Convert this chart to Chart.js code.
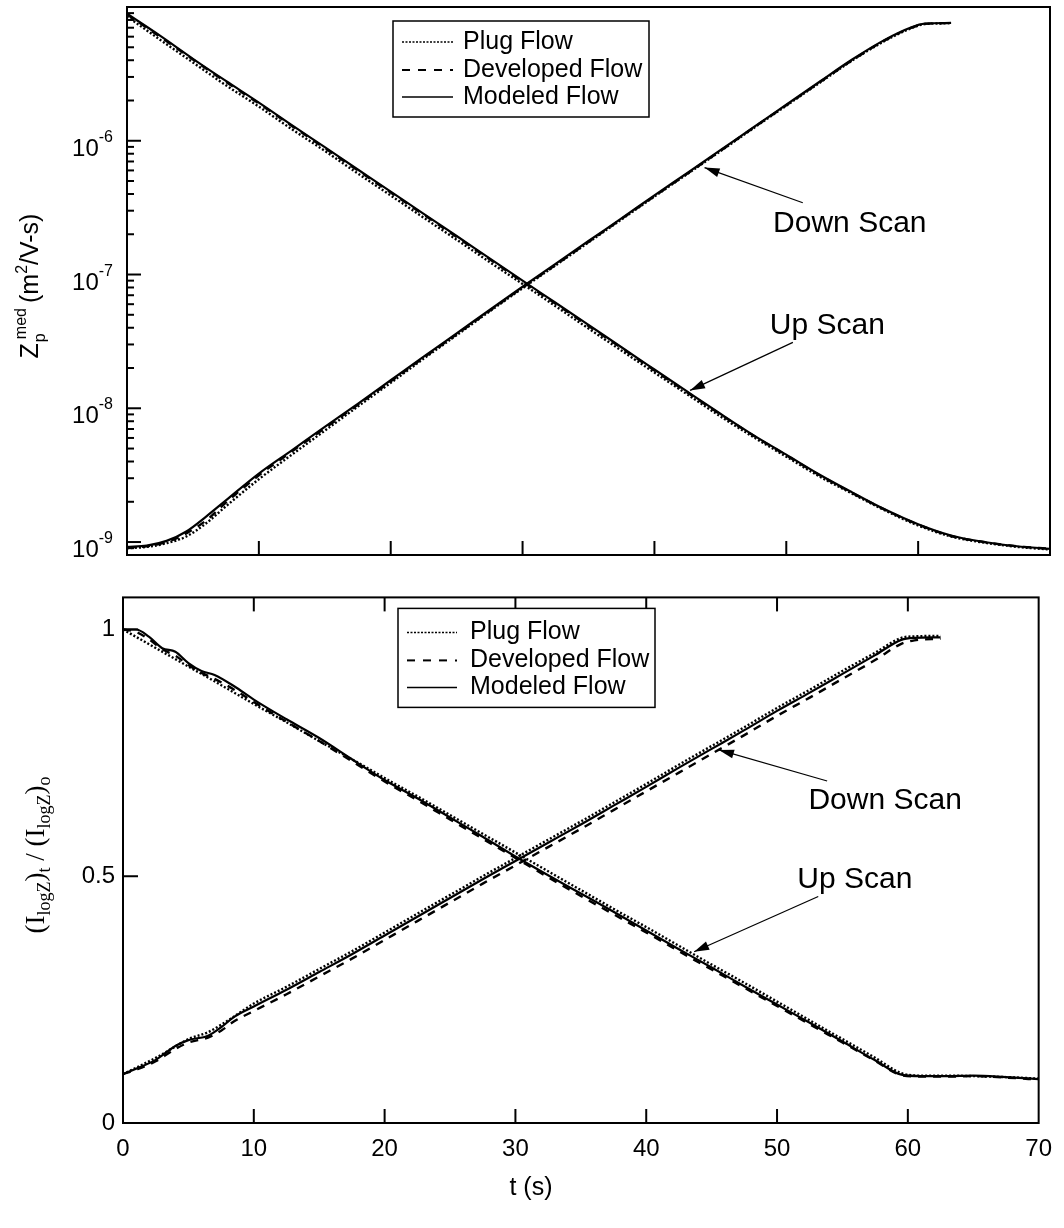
<!DOCTYPE html>
<html>
<head>
<meta charset="utf-8">
<title>Median mobility and normalized log-mobility integral vs. time</title>
<script src="https://cdn.jsdelivr.net/npm/chart.js@4.4.1/dist/chart.umd.min.js"></script>
<style>
  html, body { margin: 0; padding: 0; background: #fff; }
  #figure { position: relative; width: 1064px; height: 1228px; }
  #figure canvas { position: absolute; left: 0; }
</style>
</head>
<body>
<div id="figure">
  <canvas id="mobilityChart" width="1064" height="575" style="top:0"></canvas>
  <canvas id="integralChart" width="1064" height="653" style="top:575px"></canvas>
</div>
<script>
// ---------- data ----------
const flowLabels = ['Plug Flow', 'Developed Flow', 'Modeled Flow'];

// Upper panel: median mobility Z_p^med (m^2/V-s) vs t (s)
const tUpScanZ = [0, 2.5, 5, 7.5, 10, 12.5, 15, 17.5, 20, 22.5, 25, 27.5, 30, 32.5, 35, 37.5, 40, 42.5, 45, 47.5, 50, 52.5, 55, 57.5, 60, 62.5, 65, 67.5, 70];
const zUpPlug      = [8.5e-6, 5.7e-6, 3.85e-6, 2.6e-6, 1.8e-6, 1.22e-6, 8.4e-7, 5.7e-7, 3.9e-7, 2.66e-7, 1.82e-7, 1.24e-7, 8.5e-8, 5.8e-8, 3.95e-8, 2.7e-8, 1.85e-8, 1.27e-8, 8.7e-9, 6.1e-9, 4.35e-9, 3.1e-9, 2.3e-9, 1.72e-9, 1.33e-9, 1.1e-9, 9.9e-10, 9.2e-10, 8.8e-10];
const zUpDeveloped = [8.8e-6, 6.0e-6, 4.05e-6, 2.75e-6, 1.9e-6, 1.29e-6, 8.8e-7, 6.0e-7, 4.1e-7, 2.8e-7, 1.91e-7, 1.3e-7, 8.85e-8, 6.05e-8, 4.13e-8, 2.82e-8, 1.92e-8, 1.31e-8, 9.0e-9, 6.25e-9, 4.45e-9, 3.17e-9, 2.33e-9, 1.74e-9, 1.35e-9, 1.11e-9, 1.0e-9, 9.3e-10, 8.9e-10];
const zUpModeled   = [8.9e-6, 6.1e-6, 4.1e-6, 2.8e-6, 1.93e-6, 1.31e-6, 8.95e-7, 6.1e-7, 4.17e-7, 2.84e-7, 1.94e-7, 1.32e-7, 9.0e-8, 6.15e-8, 4.2e-8, 2.86e-8, 1.95e-8, 1.33e-8, 9.1e-9, 6.3e-9, 4.5e-9, 3.2e-9, 2.35e-9, 1.75e-9, 1.36e-9, 1.12e-9, 1.0e-9, 9.3e-10, 8.9e-10];

const tDownScanZ = [0, 1.5, 3, 4.5, 6, 7.5, 10, 12.5, 15, 17.5, 20, 22.5, 25, 27.5, 30, 32.5, 35, 37.5, 40, 42.5, 45, 47.5, 50, 52.5, 55, 57.5, 59.5, 60.5, 62.5];
const zDownPlug      = [9.0e-10, 9.2e-10, 9.8e-10, 1.1e-9, 1.38e-9, 1.85e-9, 2.95e-9, 4.5e-9, 6.8e-9, 1.03e-8, 1.55e-8, 2.35e-8, 3.52e-8, 5.3e-8, 7.9e-8, 1.17e-7, 1.74e-7, 2.58e-7, 3.83e-7, 5.65e-7, 8.35e-7, 1.24e-6, 1.83e-6, 2.7e-6, 3.98e-6, 5.6e-6, 6.95e-6, 7.45e-6, 7.55e-6];
const zDownDeveloped = [9.1e-10, 9.3e-10, 1.0e-9, 1.16e-9, 1.45e-9, 1.97e-9, 3.15e-9, 4.75e-9, 7.1e-9, 1.06e-8, 1.59e-8, 2.39e-8, 3.57e-8, 5.35e-8, 8.0e-8, 1.18e-7, 1.75e-7, 2.6e-7, 3.85e-7, 5.68e-7, 8.4e-7, 1.25e-6, 1.84e-6, 2.72e-6, 4.0e-6, 5.65e-6, 7.0e-6, 7.48e-6, 7.58e-6];
const zDownModeled   = [9.2e-10, 9.4e-10, 1.02e-9, 1.2e-9, 1.55e-9, 2.05e-9, 3.25e-9, 4.85e-9, 7.25e-9, 1.08e-8, 1.62e-8, 2.43e-8, 3.63e-8, 5.43e-8, 8.1e-8, 1.2e-7, 1.78e-7, 2.63e-7, 3.9e-7, 5.75e-7, 8.5e-7, 1.26e-6, 1.86e-6, 2.75e-6, 4.05e-6, 5.7e-6, 7.05e-6, 7.5e-6, 7.6e-6];

// Lower panel: (I_logZ)_t / (I_logZ)_o vs t (s)
const tUpScanI = [0, 1, 2, 3, 4, 5, 6, 7, 8.5, 10, 12.5, 15, 17.5, 20, 22.5, 25, 27.5, 30, 32.5, 35, 37.5, 40, 42.5, 45, 47.5, 50, 52.5, 55, 57.5, 59.5, 61, 63, 65, 67.5, 70];
const iUpPlug      = [1.0, 0.985, 0.97, 0.955, 0.94, 0.925, 0.91, 0.895, 0.872, 0.849, 0.812, 0.774, 0.737, 0.699, 0.662, 0.624, 0.586, 0.548, 0.51, 0.472, 0.434, 0.397, 0.359, 0.321, 0.284, 0.246, 0.208, 0.17, 0.132, 0.101, 0.096, 0.096, 0.095, 0.093, 0.09];
const iUpDeveloped = [1.0, 0.995, 0.98, 0.96, 0.947, 0.928, 0.912, 0.9, 0.878, 0.853, 0.813, 0.774, 0.733, 0.692, 0.654, 0.615, 0.576, 0.537, 0.498, 0.46, 0.423, 0.386, 0.348, 0.311, 0.274, 0.237, 0.2, 0.163, 0.126, 0.097, 0.094, 0.094, 0.095, 0.092, 0.088];
const iUpModeled   = [1.0, 1.0, 0.985, 0.962, 0.955, 0.932, 0.916, 0.908, 0.885, 0.858, 0.818, 0.78, 0.737, 0.695, 0.658, 0.619, 0.58, 0.54, 0.502, 0.465, 0.428, 0.39, 0.352, 0.315, 0.277, 0.24, 0.203, 0.165, 0.127, 0.098, 0.095, 0.095, 0.096, 0.093, 0.089];

const tDownScanI = [0, 1, 2.5, 4, 5, 6.5, 7.5, 8.5, 10, 12.5, 15, 17.5, 20, 22.5, 25, 27.5, 30, 32.5, 35, 37.5, 40, 42.5, 45, 47.5, 50, 52.5, 55, 57.5, 59.5, 60.5, 62.5];
const iDownPlug      = [0.099, 0.112, 0.132, 0.155, 0.17, 0.184, 0.199, 0.216, 0.242, 0.276, 0.312, 0.348, 0.386, 0.424, 0.462, 0.5, 0.537, 0.574, 0.611, 0.649, 0.687, 0.726, 0.764, 0.802, 0.841, 0.878, 0.916, 0.953, 0.983, 0.986, 0.987];
const iDownDeveloped = [0.099, 0.108, 0.125, 0.15, 0.163, 0.173, 0.187, 0.206, 0.227, 0.261, 0.297, 0.333, 0.371, 0.409, 0.447, 0.485, 0.522, 0.559, 0.596, 0.634, 0.672, 0.71, 0.748, 0.786, 0.825, 0.862, 0.9, 0.938, 0.971, 0.978, 0.981];
const iDownModeled   = [0.099, 0.11, 0.128, 0.156, 0.168, 0.177, 0.194, 0.215, 0.236, 0.27, 0.306, 0.342, 0.38, 0.418, 0.456, 0.494, 0.531, 0.568, 0.605, 0.643, 0.681, 0.72, 0.758, 0.796, 0.835, 0.872, 0.91, 0.948, 0.979, 0.983, 0.984];

// Tick values
const timeTicks = [0, 10, 20, 30, 40, 50, 60, 70];
const zDecadeExponents = [-9, -8, -7, -6];
const iTicks = [0, 0.5, 1];

// Scan annotations, in data coordinates: [t, value]
const zNotes = [
  { label: 'Down Scan', text: [49.0, 2.4e-7], tail: [51.25, 3.44e-7], tip: [43.8, 6.3e-7] },
  { label: 'Up Scan',   text: [48.75, 4.17e-8], tail: [50.5, 3.11e-8], tip: [42.7, 1.36e-8] }
];
const iNotes = [
  { label: 'Down Scan', text: [52.4, 0.653], tail: [53.83, 0.693], tip: [45.56, 0.756] },
  { label: 'Up Scan',   text: [51.55, 0.493], tail: [53.15, 0.459], tip: [43.66, 0.347] }
];

// ---------- styling ----------
const SANS = '"Liberation Sans", Arial, sans-serif';
const SERIF = '"Liberation Serif", "Times New Roman", serif';
const FLOW_STYLE = [
  { dash: [2, 2], width: 2.4 },   // plug: dotted
  { dash: [8, 7], width: 2.4 },   // developed: dashed
  { dash: [], width: 2.2 }        // modeled: solid
];
const LEGEND_STYLE = [
  { dash: [2, 1.5], width: 1.5 },
  { dash: [8, 8], width: 2 },
  { dash: [], width: 1.5 }
];

function pts(ts, vs) { return ts.map((t, i) => ({ x: t, y: vs[i] })); }

function flowDatasets(scan, ts, seriesList) {
  return seriesList.map((vs, k) => ({
    label: scan + ' - ' + flowLabels[k],
    data: pts(ts, vs),
    borderColor: '#000',
    backgroundColor: '#000',
    borderWidth: FLOW_STYLE[k].width,
    borderDash: FLOW_STYLE[k].dash,
    borderCapStyle: 'butt',
    pointRadius: 0,
    fill: false,
    cubicInterpolationMode: 'monotone'
  }));
}

function line(ctx, x1, y1, x2, y2) {
  ctx.beginPath(); ctx.moveTo(x1, y1); ctx.lineTo(x2, y2); ctx.stroke();
}

function arrow(ctx, x1, y1, x2, y2) {
  ctx.lineWidth = 1.2;
  line(ctx, x1, y1, x2, y2);
  const a = Math.atan2(y2 - y1, x2 - x1), L = 15, W = 4.5;
  const bx = x2 - L * Math.cos(a), by = y2 - L * Math.sin(a);
  ctx.beginPath();
  ctx.moveTo(x2, y2);
  ctx.lineTo(bx + W * Math.sin(a), by - W * Math.cos(a));
  ctx.lineTo(bx - W * Math.sin(a), by + W * Math.cos(a));
  ctx.closePath();
  ctx.fill();
}

// Frame, inward ticks, legend box, arrows and custom labels
const paperFrame = {
  id: 'paperFrame',
  afterDatasetsDraw(chart, args, o) {
    const { ctx, chartArea: a, scales: { x, y } } = chart;
    ctx.save();
    ctx.strokeStyle = '#000';
    ctx.fillStyle = '#000';
    ctx.setLineDash([]);

    // x ticks
    ctx.lineWidth = 2;
    timeTicks.forEach(t => {
      if (t <= x.min || t >= x.max) return;
      const px = x.getPixelForValue(t);
      line(ctx, px, a.bottom, px, a.bottom - 14);
      if (o.topTicks) line(ctx, px, a.top, px, a.top + 14);
    });

    // y ticks
    o.yTicks.forEach(([v, len]) => {
      const py = y.getPixelForValue(v);
      if (py < a.top - 0.5 || py > a.bottom + 0.5) return;
      line(ctx, a.left, py, a.left + len, py);
    });

    // frame
    ctx.lineWidth = 2;
    ctx.strokeRect(a.left, a.top, a.right - a.left, a.bottom - a.top);

    // log-axis labels 10^n
    if (o.powerLabels) {
      o.powerLabels.forEach(e => {
        const py = y.getPixelForValue(Math.pow(10, e));
        ctx.textBaseline = 'alphabetic';
        ctx.textAlign = 'left';
        ctx.font = '16px ' + SANS;
        const sup = String(e);
        const ws = ctx.measureText(sup).width;
        ctx.font = '24px ' + SANS;
        const wb = ctx.measureText('10').width;
        const right = a.left - 14;
        ctx.fillText('10', right - ws - wb, py + 15);
        ctx.font = '16px ' + SANS;
        ctx.fillText(sup, right - ws, py + 1);
      });
    }

    // legend
    const L = o.legend;
    const lx = a.left + L.left, ly = a.top + L.top;
    ctx.fillStyle = '#fff';
    ctx.fillRect(lx, ly, L.width, L.height);
    ctx.fillStyle = '#000';
    ctx.lineWidth = 1.5;
    ctx.strokeRect(lx, ly, L.width, L.height);
    flowLabels.forEach((lab, k) => {
      const ry = ly + L.rows[k];
      ctx.lineWidth = LEGEND_STYLE[k].width;
      ctx.setLineDash(LEGEND_STYLE[k].dash);
      line(ctx, lx + L.sample[0], ry, lx + L.sample[1], ry);
      ctx.setLineDash([]);
      ctx.font = '25px ' + SANS;
      ctx.textBaseline = 'middle';
      ctx.textAlign = 'left';
      ctx.fillText(lab, lx + L.textX, ry);
    });

    // scan annotations
    o.notes.forEach(n => {
      const px = p => [x.getPixelForValue(p[0]), y.getPixelForValue(p[1])];
      const [tx, ty] = px(n.text), [ax, ay] = px(n.tail), [bx, by] = px(n.tip);
      arrow(ctx, ax, ay, bx, by);
      ctx.font = '30px ' + SANS;
      ctx.textBaseline = 'middle';
      ctx.textAlign = 'left';
      ctx.fillText(n.label, tx, ty);
    });

    if (o.drawTitles) o.drawTitles(ctx, a);
    ctx.restore();
  }
};

function drawZTitle(ctx) {
  ctx.save();
  ctx.translate(38, 286);
  ctx.rotate(-Math.PI / 2);
  ctx.textBaseline = 'alphabetic';
  ctx.textAlign = 'left';
  const big = '25px ' + SANS, small = '16px ' + SANS;
  ctx.font = big;
  const wZ = ctx.measureText('Z').width, wM = ctx.measureText('(m').width, wR = ctx.measureText('/V-s)').width;
  ctx.font = small;
  const wp = ctx.measureText('p').width, wmed = ctx.measureText('med').width, w2 = ctx.measureText('2').width;
  const stack = Math.max(wp, wmed + 3);
  const total = wZ + 1 + stack + 5 + wM + w2 + wR;
  let x = -total / 2;
  ctx.font = big; ctx.fillText('Z', x, 0); x += wZ + 1;
  ctx.font = small; ctx.fillText('p', x, 7); ctx.fillText('med', x + 3, -12); x += stack + 5;
  ctx.font = big; ctx.fillText('(m', x, 0); x += wM;
  ctx.font = small; ctx.fillText('2', x, -11); x += w2;
  ctx.font = big; ctx.fillText('/V-s)', x, 0);
  ctx.restore();
}

function drawITitle(ctx) {
  ctx.save();
  ctx.translate(44, 280);
  ctx.rotate(-Math.PI / 2);
  ctx.textBaseline = 'alphabetic';
  ctx.textAlign = 'left';
  const big = '27px ' + SERIF, small = '18px ' + SERIF;
  const runs = [
    ['(I', big, 0], ['logZ', small, 6], [')', big, 0], ['t', small, 6],
    [' / (I', big, 0], ['logZ', small, 6], [')', big, 0], ['o', small, 6]
  ];
  let total = 0;
  runs.forEach(r => { ctx.font = r[1]; total += ctx.measureText(r[0]).width; });
  let x = -total / 2;
  runs.forEach(r => { ctx.font = r[1]; ctx.fillText(r[0], x, r[2]); x += ctx.measureText(r[0]).width; });
  ctx.restore();
}

function drawTimeTitle(ctx) {
  ctx.save();
  ctx.font = '25px ' + SANS;
  ctx.textAlign = 'center';
  ctx.textBaseline = 'middle';
  ctx.fillText('t (s)', 531, 613);
  ctx.restore();
}

// minor ticks for the log axis: 2..9 x 10^n
const zTickMarks = [];
for (let e = -10; e <= -5; e++) {
  zTickMarks.push([Math.pow(10, e), 14]);
  for (let m = 2; m <= 9; m++) zTickMarks.push([m * Math.pow(10, e), 7]);
}

const baseOptions = {
  responsive: false,
  animation: false,
  devicePixelRatio: 1,
  events: []
};

// ---------- upper chart ----------
new Chart(document.getElementById('mobilityChart'), {
  type: 'line',
  data: {
    datasets: [
      ...flowDatasets('Up Scan', tUpScanZ, [zUpPlug, zUpDeveloped, zUpModeled]),
      ...flowDatasets('Down Scan', tDownScanZ, [zDownPlug, zDownDeveloped, zDownModeled])
    ]
  },
  options: {
    ...baseOptions,
    layout: { padding: { top: 7, right: 14, left: 0, bottom: 0 } },
    plugins: {
      legend: { display: false },
      tooltip: { enabled: false },
      paperFrame: {
        topTicks: false,
        yTicks: zTickMarks,
        powerLabels: zDecadeExponents,
        legend: { left: 266, top: 14, width: 256, height: 96, rows: [21, 49, 76], sample: [9, 60], textX: 70 },
        notes: zNotes,
        drawTitles: (ctx) => drawZTitle(ctx)
      }
    },
    scales: {
      x: {
        type: 'linear', min: 0, max: 70,
        ticks: { display: false, stepSize: 10 },
        grid: { display: false, drawTicks: false },
        border: { display: false },
        afterFit(s) { s.height = 20; }
      },
      y: {
        type: 'logarithmic', min: 8e-10, max: 1e-5,
        ticks: { display: false },
        grid: { display: false, drawTicks: false },
        border: { display: false },
        afterFit(s) { s.width = 127; }
      }
    }
  },
  plugins: [paperFrame]
});

// ---------- lower chart ----------
new Chart(document.getElementById('integralChart'), {
  type: 'line',
  data: {
    datasets: [
      ...flowDatasets('Up Scan', tUpScanI, [iUpPlug, iUpDeveloped, iUpModeled]),
      ...flowDatasets('Down Scan', tDownScanI, [iDownPlug, iDownDeveloped, iDownModeled])
    ]
  },
  options: {
    ...baseOptions,
    layout: { padding: { top: 10, right: 19, left: 0, bottom: 0 } },
    plugins: {
      legend: { display: false },
      tooltip: { enabled: false },
      paperFrame: {
        topTicks: true,
        yTicks: iTicks.map(v => [v, 15]),
        legend: { left: 275, top: 11, width: 257, height: 99, rows: [24, 52, 79], sample: [9, 59], textX: 72 },
        notes: iNotes,
        drawTitles: (ctx) => { drawITitle(ctx); drawTimeTitle(ctx); }
      }
    },
    scales: {
      x: {
        type: 'linear', min: 0, max: 70,
        afterBuildTicks(s) { s.ticks = timeTicks.map(v => ({ value: v })); },
        ticks: { autoSkip: false, maxRotation: 0, padding: 12, color: '#000', font: { family: SANS, size: 24 }, callback: v => String(v) },
        grid: { display: false, drawTicks: false },
        border: { display: false },
        afterFit(s) { s.height = 105; }
      },
      y: {
        type: 'linear', min: 0, max: 1.065,
        afterBuildTicks(s) { s.ticks = iTicks.map(v => ({ value: v })); },
        ticks: { padding: 8, color: '#000', font: { family: SANS, size: 24 }, callback: v => String(v) },
        grid: { display: false, drawTicks: false },
        border: { display: false },
        afterFit(s) { s.width = 123; }
      }
    }
  },
  plugins: [paperFrame]
});
</script>
</body>
</html>
